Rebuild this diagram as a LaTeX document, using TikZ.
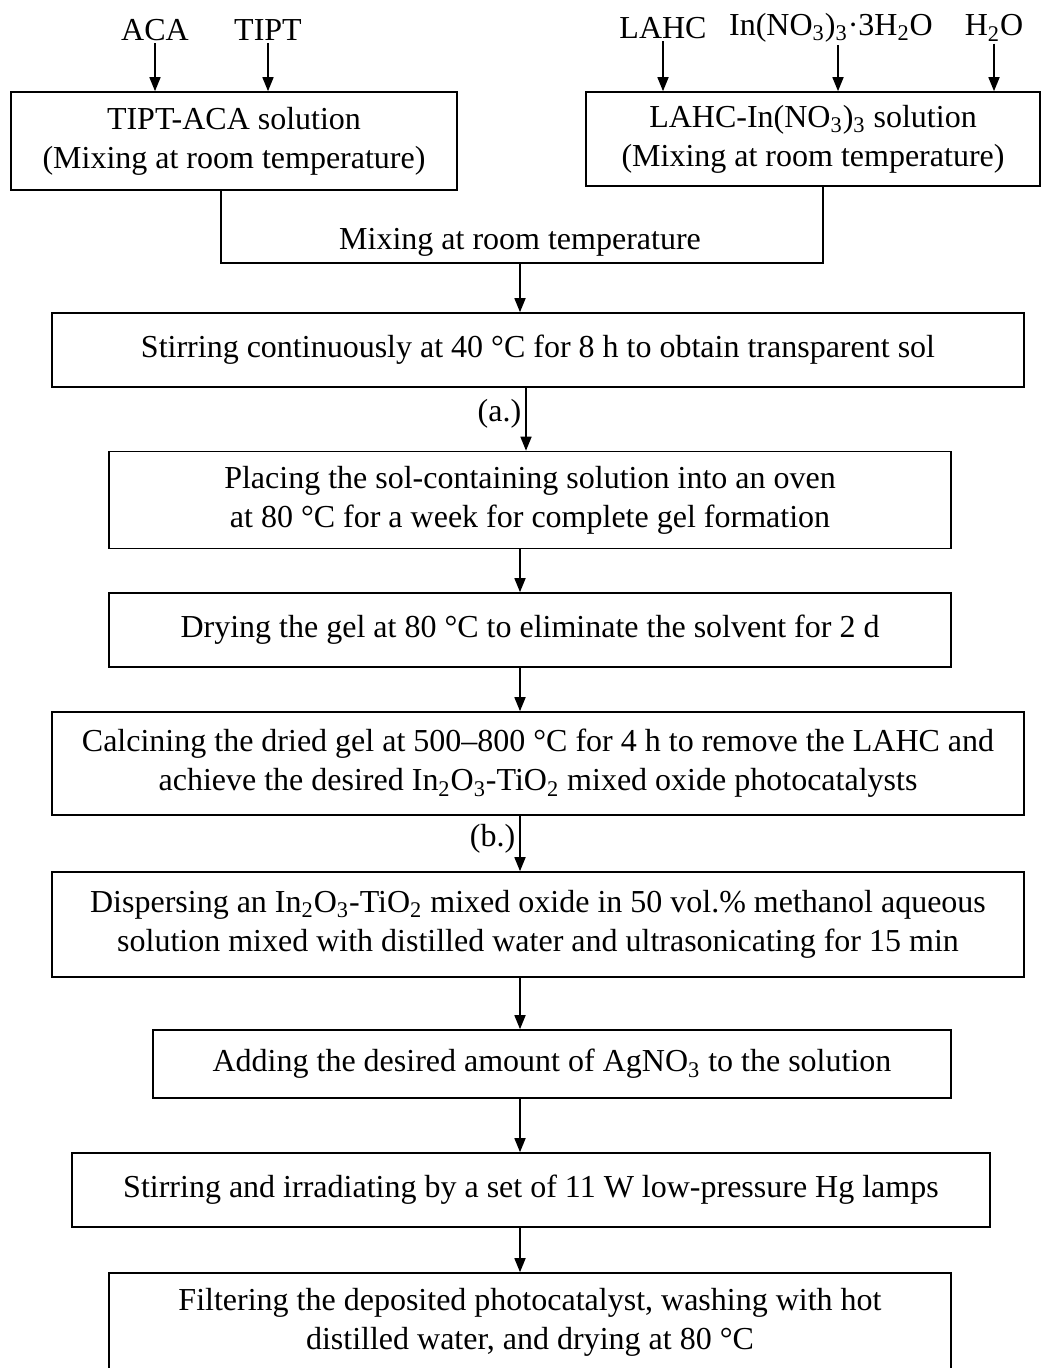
\documentclass[tikz,border=0pt]{standalone}
\usepackage{fontspec}
\setmainfont{Liberation Serif}
\usetikzlibrary{arrows.meta}

\tikzset{
  procbox/.style={draw, line width=0.8pt, align=center, inner sep=0pt,
    font=\fontsize{16}{19.5}\selectfont},
  inlabel/.style={inner sep=1pt, font=\fontsize{16}{19}\selectfont},
  flow/.style={line width=0.8pt, -{Triangle[length=7pt,width=5.5pt]}}
}

\begin{document}
\begin{tikzpicture}[x=0.5pt,y=-0.5pt]
    \useasboundingbox (0,0) rectangle (1042,1368);
    \clip (0,0) rectangle (1042,1368);
    % Starting solutions
    \node[procbox, minimum width=223pt, minimum height=49pt]
        (tipt) at (234,141) {TIPT-ACA solution\\(Mixing at room temperature)};
    \node[procbox, minimum width=227pt, minimum height=47pt]
        (lahc) at (813,139) {LAHC-In(NO\textsubscript{3})\textsubscript{3} solution\\(Mixing at room temperature)};
    % Reagents on top
    \node[inlabel] (aca) at (155,30) {ACA};
    \node[inlabel] (tipr) at (268,30) {TIPT};
    \node[inlabel] (lah) at (663,28) {LAHC};
    \node[inlabel] (inno) at (831,28) {In(NO\textsubscript{3})\textsubscript{3}·3H\textsubscript{2}O};
    \node[inlabel] (water) at (994,28) {H\textsubscript{2}O};
    \draw[flow] (aca.south) -- (aca.south |- tipt.north);
    \draw[flow] (tipr.south) -- (tipr.south |- tipt.north);
    \draw[flow] (lah.south) -- (lah.south |- lahc.north);
    \draw[flow] ([xshift=3.5pt]inno.south) -- ([xshift=3.5pt]inno.south |- lahc.north);
    \draw[flow] (water.south) -- (water.south |- lahc.north);
    % Mixing bracket
    \coordinate (mixL) at (221,263);
    \coordinate (mixR) at (823,263);
    \coordinate (axis) at (520,0);
    \draw[line width=0.8pt] (tipt.south -| mixL) -- (mixL) -- (mixR) -- (lahc.south -| mixR);
    \node[inlabel] (mixtxt) at (520,242) {Mixing at room temperature};
    % Process steps
    \node[procbox, minimum width=486pt, minimum height=37pt] (stir) at (538,350)
        {Stirring continuously at 40 °C for 8 h to obtain transparent sol};
    \node[procbox, minimum width=421pt, minimum height=48.5pt] (place) at (530,500)
        {Placing the sol-containing solution into an oven\\at 80 °C for a week for complete gel formation};
    \node[procbox, minimum width=421pt, minimum height=37pt] (dry) at (530,630)
        {Drying the gel at 80 °C to eliminate the solvent for 2 d};
    \node[procbox, minimum width=486pt, minimum height=51.5pt] (calc) at (538,763.5)
        {Calcining the dried gel at 500--800 °C for 4 h to remove the LAHC and\\achieve the desired In\textsubscript{2}O\textsubscript{3}-TiO\textsubscript{2} mixed oxide photocatalysts};
    \node[procbox, minimum width=486pt, minimum height=52.5pt] (disp) at (538,924.5)
        {Dispersing an In\textsubscript{2}O\textsubscript{3}-TiO\textsubscript{2} mixed oxide in 50 vol.\% methanol aqueous\\solution mixed with distilled water and ultrasonicating for 15 min};
    \node[procbox, minimum width=399pt, minimum height=34pt] (add) at (552,1064)
        {Adding the desired amount of AgNO\textsubscript{3} to the solution};
    \node[procbox, minimum width=459pt, minimum height=37pt] (hg) at (531,1190)
        {Stirring and irradiating by a set of 11 W low-pressure Hg lamps};
    \node[procbox, minimum width=421pt, minimum height=49pt] (filt) at (530,1322)
        {Filtering the deposited photocatalyst, washing with hot\\distilled water, and drying at 80 °C};
    % Connectors
    \draw[flow] (mixL -| axis) -- (stir.north -| axis);
    \draw[flow] ([xshift=3pt]stir.south -| axis) -- node[left, inlabel, inner sep=2pt, yshift=2.5pt] {(a.)} ([xshift=3pt]place.north -| axis);
    \draw[flow] (place.south -| axis) -- (dry.north -| axis);
    \draw[flow] (dry.south -| axis) -- (calc.north -| axis);
    \draw[flow] (calc.south -| axis) -- node[left, inlabel, inner sep=2pt, yshift=2.5pt] {(b.)} (disp.north -| axis);
    \draw[flow] (disp.south -| axis) -- (add.north -| axis);
    \draw[flow] (add.south -| axis) -- (hg.north -| axis);
    \draw[flow] (hg.south -| axis) -- (filt.north -| axis);
\end{tikzpicture}
\end{document}
